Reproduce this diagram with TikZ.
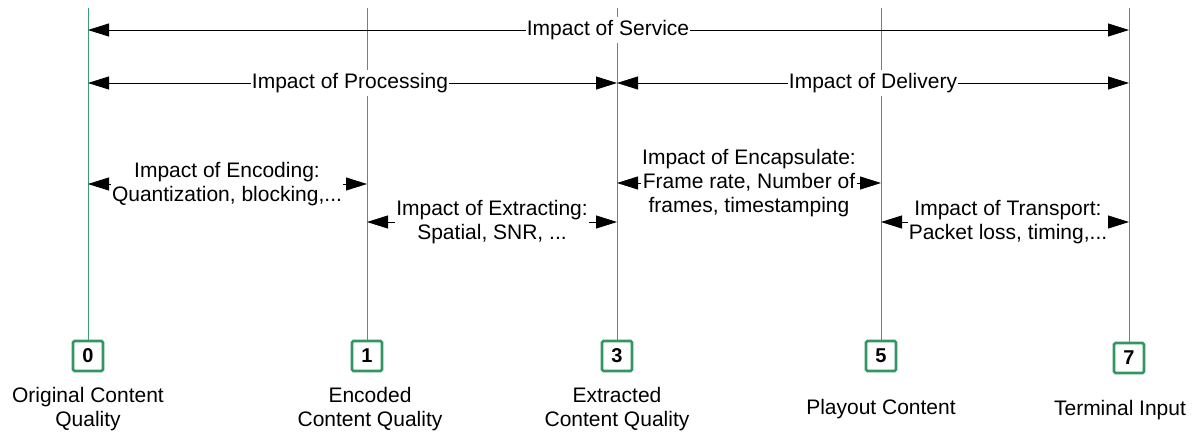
\documentclass[tikz,border=0pt]{standalone}
\usepackage{fontspec}
\setmainfont{Liberation Sans}
\usetikzlibrary{arrows.meta}
\definecolor{stagegreen}{RGB}{60,160,110}
\definecolor{boxgreen}{RGB}{50,150,100}
\begin{document}
\begin{tikzpicture}[x=1pt,y=-1pt,
  vline/.style={draw=stagegreen,line width=1pt},
  span/.style={draw=black,line width=0.8pt,{Triangle[length=21pt,width=13pt]}-{Triangle[length=21pt,width=13pt]}},
  lbl/.style={fill=white,inner xsep=1pt,inner ysep=3pt,align=center,font=\fontsize{21}{24}\selectfont},
  stage/.style={draw=boxgreen,line width=2.6pt,rounded corners=1.5pt,minimum width=30pt,minimum height=30pt,inner sep=0pt,font=\fontsize{20}{24}\selectfont\bfseries},
  stagecaption/.style={align=center,font=\fontsize{21}{24}\selectfont,inner sep=0pt}]
\useasboundingbox (0,0) rectangle (1197,434);

% stage boxes
\node[stage] (b0) at (88,356) {0};
\node[stage] (b1) at (367,356) {1};
\node[stage] (b3) at (617,356) {3};
\node[stage] (b5) at (881,356) {5};
\node[stage] (b7) at (1129,358) {7};

% tops of the stage lines
\coordinate (t0) at (88,8);
\coordinate (t1) at (367,8);
\coordinate (t3) at (617,8);
\coordinate (t5) at (881,8);
\coordinate (t7) at (1129,8);

\draw[vline] (t0) -- (b0.north);
\draw[vline] (t1) -- (b1.north);
\draw[vline] (t3) -- (b3.north);
\draw[vline] (t5) -- (b5.north);
\draw[vline] (t7) -- (b7.north);

% arrow end points on the stage lines
\coordinate (s0) at (88,30);   \coordinate (s7) at (1129,30);
\coordinate (p0) at (88,83);   \coordinate (p3) at (617,83);  \coordinate (p7) at (1129,83);
\coordinate (e0) at (88,184);  \coordinate (e1) at (367,184);
\coordinate (x1) at (367,222); \coordinate (x3) at (617,222);
\coordinate (c3) at (617,183); \coordinate (c5) at (881,183);
\coordinate (r5) at (881,222); \coordinate (r7) at (1129,222);

\draw[span] (s0) -- (s7);
\draw[span] (p0) -- (p3);
\draw[span] (p3) -- (p7);
\draw[span] (e0) -- (e1);
\draw[span] (x1) -- (x3);
\draw[span] (c3) -- (c5);
\draw[span] (r5) -- (r7);

% span labels
\node[lbl] (lsvc) at (608,30) {Impact of Service};
\node[lbl] (lproc) at (350,83) {Impact of Processing};
\node[lbl] (ldel) at (873,83) {Impact of Delivery};
\node[lbl] (lenc) at (227,184) {Impact of Encoding:\\Quantization, blocking,...};
\node[lbl] (lext) at (492,222) {Impact of Extracting:\\Spatial, SNR, ...};
\node[lbl] (lcap) at (749,183) {Impact of Encapsulate:\\Frame rate, Number of\\frames, timestamping};
\node[lbl] (ltr) at (1008,222) {Impact of Transport:\\Packet loss, timing,...};

% stage captions
\node[stagecaption] (n0) at (88,409) {Original Content\\Quality};
\node[stagecaption] (n1) at (370,409) {Encoded\\Content Quality};
\node[stagecaption] (n3) at (617,409) {Extracted\\Content Quality};
\node[stagecaption] (n5) at (881,409) {Playout Content};
\node[stagecaption] (n7) at (1120,410) {Terminal Input};
\end{tikzpicture}
\end{document}
